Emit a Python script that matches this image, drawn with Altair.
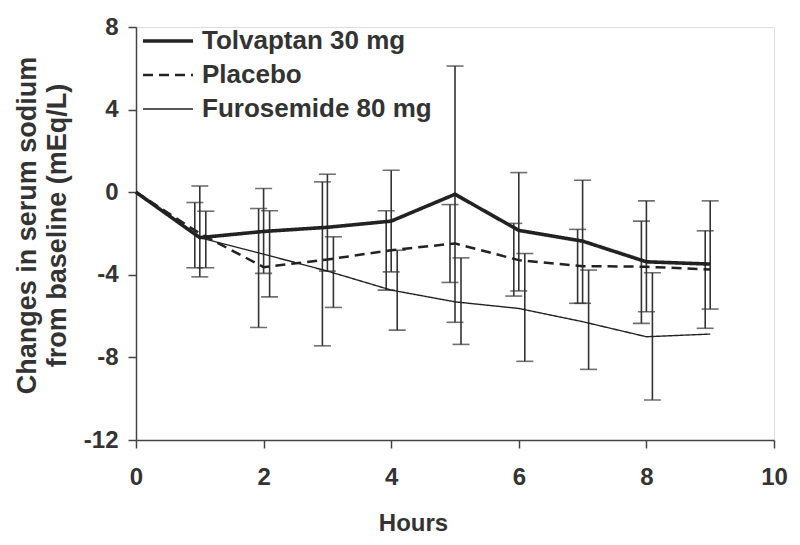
import altair as alt
import pandas as pd

# ---- data ----
hours = [0, 1, 2, 3, 4, 5, 6, 7, 8, 9]
series_names = ["Tolvaptan 30 mg", "Placebo", "Furosemide 80 mg"]

tolvaptan = [0, -2.2, -1.9, -1.7, -1.4, -0.1, -1.85, -2.37, -3.37, -3.48]
placebo = [0, -2.0, -3.63, -3.26, -2.81, -2.48, -3.29, -3.58, -3.61, -3.74]
furosemide = [0, -2.2, -3.0, -3.82, -4.74, -5.31, -5.63, -6.27, -7.0, -6.87]

err_hours = [1, 2, 3, 4, 5, 6, 7, 8, 9]
tolv_hi = [0.30, 0.18, 0.87, 1.06, 6.11, 0.95, 0.58, -0.42, -0.42]
tolv_lo = [-4.10, -3.93, -3.82, -3.86, -6.30, -4.78, -5.38, -5.79, -5.66]
plac_hi = [-0.50, -0.79, 0.50, -0.90, -0.60, -1.51, -1.80, -1.40, -1.87]
plac_lo = [-3.66, -6.55, -7.44, -4.74, -4.37, -5.03, -5.38, -6.35, -6.59]
furo_hi = [-0.92, -0.90, -2.16, -2.81, -3.18, -2.97, -3.77, -3.90, None]
furo_lo = [-3.66, -5.07, -5.58, -6.68, -7.37, -8.19, -8.58, -10.06, None]

y_ticks = [-12, -8, -4, 0, 4, 8]
x_ticks = [0, 2, 4, 6, 8, 10]

FONT = "Liberation Sans"
TXT = "#333333"
LINE = "#222222"

# ---- tables ----
lines_df = pd.concat([
    pd.DataFrame({"hour": hours, "value": vals, "series": name})
    for name, vals in zip(series_names, [tolvaptan, placebo, furosemide])
])

err_tables = {
    "Tolvaptan 30 mg": pd.DataFrame({"hour": err_hours, "hi": tolv_hi, "lo": tolv_lo}),
    "Placebo": pd.DataFrame({"hour": err_hours, "hi": plac_hi, "lo": plac_lo}),
    "Furosemide 80 mg": pd.DataFrame({"hour": err_hours, "hi": furo_hi, "lo": furo_lo}).dropna(),
}
err_shift = {"Tolvaptan 30 mg": 0, "Placebo": -5, "Furosemide 80 mg": 6}

xscale = alt.Scale(domain=[0, 10], nice=False)
yscale = alt.Scale(domain=[-12, 8], nice=False)

label_expr = "datum.value < 0 ? '-' + abs(datum.value) : '' + datum.value"

x_axis = alt.Axis(
    values=x_ticks, title="Hours", grid=False, tickSize=8, labelPadding=17,
    labelExpr=label_expr, labelFlush=False,
    labelFontSize=24, labelFont=FONT, labelFontWeight="bold", labelColor=TXT,
    titleFontSize=24, titleFont=FONT, titleFontWeight="bold", titleColor=TXT,
    titleX=277, titleY=83, titleBaseline="middle",
    domainColor="#444444", tickColor="#444444", domainWidth=1.5, tickWidth=1.5,
)
y_axis = alt.Axis(
    values=y_ticks, title=["Changes in serum sodium", "from baseline (mEq/L)"],
    grid=False, tickSize=8, labelPadding=10, labelExpr=label_expr, labelFlush=False,
    labelFontSize=24, labelFont=FONT, labelFontWeight="bold", labelColor=TXT,
    titleFontSize=27, titleFont=FONT, titleFontWeight="bold", titleColor=TXT,
    titleLineHeight=30, titleX=-95, titleY=198,
    domainColor="#444444", tickColor="#444444", domainWidth=1.5, tickWidth=1.5,
)

legend = alt.Legend(
    orient="none", legendX=19, legendY=1, title=None, symbolType="M-5,0H5",
    symbolSize=100, symbolStrokeColor=LINE, symbolFillColor="transparent",
    labelFont=FONT, labelFontSize=26,
    labelFontWeight="bold", labelColor=TXT, labelOffset=21, rowPadding=8,
    padding=0, labelLimit=400,
)

lines = alt.Chart(lines_df).mark_line(color=LINE).encode(
    x=alt.X("hour:Q", scale=xscale, axis=x_axis),
    y=alt.Y("value:Q", scale=yscale, axis=y_axis),
    strokeDash=alt.StrokeDash(
        "series:N",
        scale=alt.Scale(domain=series_names, range=[[1, 0], [10, 6], [1, 0]]),
        legend=legend,
    ),
    strokeWidth=alt.StrokeWidth(
        "series:N",
        scale=alt.Scale(domain=series_names, range=[3.6, 1.4, 1.3]),
        legend=legend,
    ),
    detail="series:N",
)

layers = []
for name in series_names:
    df = err_tables[name]
    dx = err_shift[name]
    base = alt.Chart(df)
    layers.append(base.mark_rule(color="#333333", strokeWidth=1.6, xOffset=dx).encode(
        x=alt.X("hour:Q", scale=xscale), y=alt.Y("lo:Q", scale=yscale), y2="hi:Q"))
    for col in ["lo", "hi"]:
        layers.append(base.mark_tick(color="#333333", orient="horizontal", size=17,
                                     thickness=1.6, xOffset=dx).encode(
            x=alt.X("hour:Q", scale=xscale), y=alt.Y(f"{col}:Q", scale=yscale)))

chart = alt.layer(*layers, lines).properties(
    width=638, height=413,
    autosize=alt.AutoSizeParams(type="none"),
    padding={"left": 128, "top": 19, "right": 18, "bottom": 97},
).configure_view(stroke=None).configure(background="white")

chart.save("out.html", embed_options={"renderer": "svg", "actions": False})
